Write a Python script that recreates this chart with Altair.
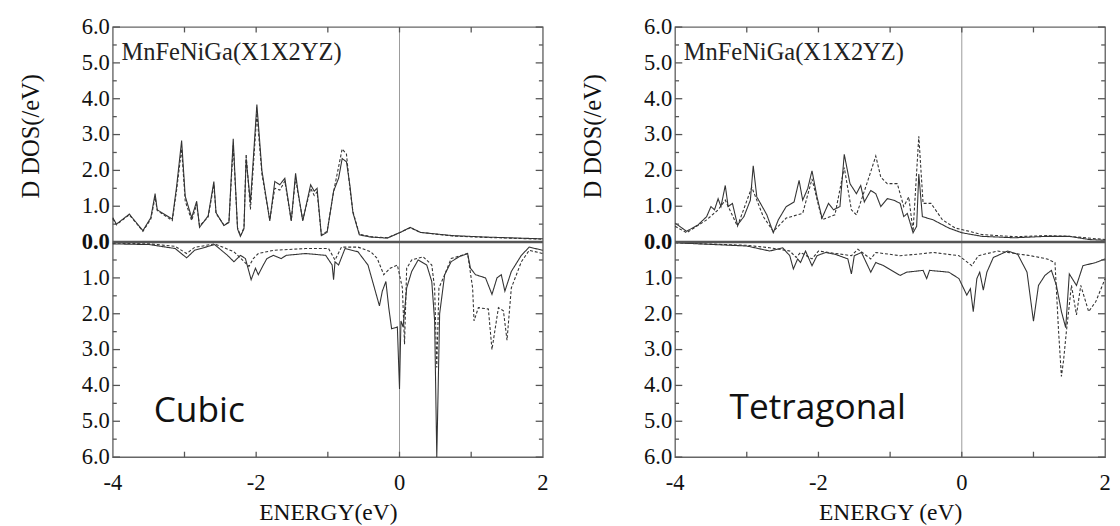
import altair as alt
import pandas as pd

# ---------------- data (energy eV, DOS states/eV) ----------------
# Cubic, spin-up
cub_up_solid = [(-4.0,0.68),(-3.95,0.50),(-3.77,0.78),(-3.58,0.32),(-3.47,0.68),(-3.41,1.35),(-3.38,0.90),
    (-3.17,0.64),(-3.11,1.55),(-3.04,2.83),(-2.99,1.28),(-2.90,0.68),(-2.83,1.14),(-2.79,0.41),(-2.67,0.73),
    (-2.59,1.69),(-2.56,0.82),(-2.45,0.46),(-2.38,0.55),(-2.32,2.88),(-2.26,0.37),(-2.22,0.16),(-2.17,0.37),
    (-2.14,2.33),(-2.08,1.10),(-1.99,3.84),(-1.92,2.00),(-1.81,0.59),(-1.74,1.69),(-1.67,1.60),(-1.60,1.78),
    (-1.51,0.59),(-1.45,1.92),(-1.42,1.46),(-1.35,0.59),(-1.24,1.60),(-1.19,1.42),(-1.15,1.50),(-1.09,0.18),
    (-1.01,0.27),(-0.92,1.42),(-0.85,1.78),(-0.80,2.33),(-0.74,2.24),(-0.69,1.55),(-0.65,0.82),(-0.56,0.20),
    (-0.40,0.14),(-0.17,0.11),(0.01,0.27),(0.15,0.41),(0.29,0.27),(0.74,0.18),(1.20,0.14),(2.0,0.09)]
cub_up_dash = [(-4.0,0.65),(-3.95,0.48),(-3.77,0.76),(-3.58,0.30),(-3.47,0.64),(-3.41,1.25),(-3.38,0.88),
    (-3.17,0.60),(-3.11,1.45),(-3.04,2.60),(-2.99,1.15),(-2.90,0.60),(-2.83,1.05),(-2.79,0.45),(-2.67,0.70),
    (-2.59,1.60),(-2.56,0.80),(-2.45,0.48),(-2.38,0.55),(-2.32,2.70),(-2.26,0.40),(-2.22,0.18),(-2.17,0.40),
    (-2.14,2.45),(-2.08,0.91),(-1.99,3.60),(-1.92,1.90),(-1.81,0.62),(-1.74,1.50),(-1.67,1.45),(-1.60,1.70),
    (-1.51,0.60),(-1.45,1.80),(-1.42,1.40),(-1.35,0.62),(-1.24,1.50),(-1.19,1.30),(-1.15,1.40),(-1.09,0.20),
    (-1.01,0.30),(-0.92,1.40),(-0.87,1.90),(-0.80,2.60),(-0.74,2.45),(-0.69,1.45),(-0.65,0.85),(-0.56,0.22),
    (-0.40,0.15),(-0.17,0.12),(0.01,0.27),(0.15,0.40),(0.29,0.27),(0.74,0.17),(1.20,0.13),(2.0,0.08)]
# Cubic, spin-down (magnitudes)
cub_dn_solid = [(-4.0,0.05),(-3.49,0.07),(-3.13,0.18),(-2.97,0.44),(-2.86,0.23),(-2.58,0.07),(-2.40,0.37),
    (-2.31,0.55),(-2.22,0.37),(-2.15,0.46),(-2.07,1.05),(-2.01,0.73),(-1.97,0.91),(-1.90,0.64),(-1.85,0.46),
    (-1.76,0.37),(-1.65,0.46),(-1.58,0.37),(-1.31,0.32),(-1.03,0.37),(-0.94,0.64),(-0.92,1.05),(-0.90,0.55),
    (-0.85,0.64),(-0.76,0.18),(-0.58,0.27),(-0.44,0.64),(-0.35,1.28),(-0.28,1.78),(-0.24,1.37),(-0.19,1.10),
    (-0.15,1.83),(-0.11,2.42),(-0.03,2.37),(0.0,4.10),(0.02,2.20),(0.05,2.37),(0.10,1.28),(0.17,0.82),
    (0.26,0.50),(0.38,0.64),(0.45,1.10),(0.49,2.20),(0.52,6.0),(0.56,2.00),(0.63,0.91),(0.72,0.55),
    (0.83,0.41),(0.95,0.32),(0.99,0.73),(1.06,0.91),(1.20,1.00),(1.29,1.46),(1.36,1.00),(1.42,0.91),
    (1.47,1.37),(1.56,0.82),(1.70,0.37),(1.81,0.14),(2.0,0.23)]
cub_dn_dash = [(-4.0,0.03),(-3.49,0.05),(-3.13,0.12),(-2.97,0.32),(-2.86,0.15),(-2.58,0.05),(-2.31,0.27),
    (-2.10,0.68),(-2.04,0.46),(-1.97,0.32),(-1.76,0.23),(-1.31,0.18),(-0.99,0.18),(-0.90,0.50),(-0.81,0.14),
    (-0.58,0.14),(-0.40,0.27),(-0.31,0.46),(-0.22,0.91),(-0.13,0.73),(-0.03,0.64),(0.04,1.28),(0.07,2.85),
    (0.10,0.73),(0.17,0.50),(0.33,0.41),(0.45,0.64),(0.49,1.28),(0.52,3.50),(0.55,1.28),(0.63,0.91),
    (0.72,0.46),(0.95,0.32),(1.02,1.28),(1.04,2.20),(1.10,1.83),(1.24,1.87),(1.29,3.00),(1.38,1.83),
    (1.45,1.92),(1.50,2.74),(1.56,1.28),(1.70,0.55),(1.81,0.23),(2.0,0.32)]
# Tetragonal, spin-up
tet_up_solid = [(-4.0,0.53),(-3.84,0.30),(-3.68,0.48),(-3.56,0.71),(-3.50,0.99),(-3.45,0.90),(-3.40,1.21),
    (-3.36,0.99),(-3.30,1.58),(-3.26,0.99),(-3.20,1.08),(-3.13,0.48),(-3.04,0.71),(-2.95,1.17),(-2.91,2.13),
    (-2.86,1.26),(-2.77,0.94),(-2.72,0.76),(-2.63,0.26),(-2.56,0.62),(-2.45,0.99),(-2.34,1.12),(-2.27,1.72),
    (-2.22,1.17),(-2.15,1.49),(-2.09,1.99),(-2.02,1.26),(-1.95,0.67),(-1.86,1.08),(-1.79,0.90),(-1.70,0.99),
    (-1.64,2.45),(-1.56,1.63),(-1.47,1.35),(-1.41,1.58),(-1.36,1.12),(-1.27,1.44),(-1.20,1.35),(-1.13,0.99),
    (-1.04,1.21),(-0.95,1.17),(-0.86,1.08),(-0.81,0.71),(-0.76,0.80),(-0.68,0.26),(-0.63,0.44),(-0.60,1.90),
    (-0.55,0.71),(-0.40,0.62),(-0.18,0.39),(0.0,0.26),(0.28,0.16),(0.73,0.12),(1.19,0.16),(1.50,0.16),
    (1.78,0.07),(2.0,0.05)]
tet_up_dash = [(-4.0,0.44),(-3.84,0.26),(-3.56,0.62),(-3.40,0.90),(-3.30,1.17),(-3.13,0.44),(-2.93,1.53),
    (-2.77,0.71),(-2.63,0.30),(-2.45,0.67),(-2.22,0.80),(-2.09,1.76),(-1.95,0.62),(-1.77,0.76),(-1.64,2.08),
    (-1.54,0.90),(-1.47,0.76),(-1.31,1.72),(-1.20,2.40),(-1.13,1.81),(-1.04,1.63),(-0.90,1.63),(-0.81,0.99),
    (-0.74,1.26),(-0.68,0.30),(-0.60,2.95),(-0.54,1.08),(-0.43,1.08),(-0.27,0.62),(-0.09,0.39),(0.0,0.35),
    (0.28,0.21),(0.73,0.15),(1.19,0.18),(1.50,0.16),(2.0,0.07)]
# Tetragonal, spin-down (magnitudes)
tet_dn_solid = [(-4.0,0.02),(-3.0,0.11),(-2.68,0.25),(-2.50,0.16),(-2.40,0.38),(-2.35,0.75),(-2.29,0.47),
    (-2.25,0.57),(-2.18,0.25),(-2.09,0.66),(-2.02,0.38),(-1.90,0.29),(-1.77,0.34),(-1.59,0.47),(-1.54,0.89),
    (-1.50,0.38),(-1.40,0.29),(-1.27,0.84),(-1.20,0.57),(-1.09,0.66),(-0.86,0.93),(-0.77,0.84),(-0.54,0.79),
    (-0.49,1.02),(-0.45,0.79),(-0.18,0.84),(-0.04,1.02),(0.07,1.48),(0.12,1.30),(0.16,1.94),(0.21,1.02),
    (0.25,0.84),(0.30,1.34),(0.35,0.84),(0.44,0.43),(0.64,0.25),(0.78,0.34),(0.91,0.84),(1.00,2.21),
    (1.07,1.21),(1.16,0.93),(1.25,0.79),(1.32,1.21),(1.39,1.94),(1.45,2.39),(1.50,0.89),(1.60,1.21),
    (1.69,0.66),(1.87,0.57),(2.0,0.47)]
tet_dn_dash = [(-4.0,0.02),(-3.0,0.09),(-2.68,0.16),(-2.40,0.25),(-2.31,0.43),(-2.25,0.29),(-2.09,0.47),
    (-2.00,0.25),(-1.54,0.38),(-1.45,0.20),(-1.27,0.47),(-1.20,0.29),(-0.86,0.38),(-0.63,0.34),(-0.40,0.29),
    (-0.04,0.38),(0.14,0.66),(0.23,0.38),(0.50,0.25),(0.96,0.38),(1.19,0.47),(1.30,0.57),(1.35,2.48),
    (1.39,3.75),(1.42,3.30),(1.46,2.48),(1.53,1.21),(1.60,2.03),(1.66,1.21),(1.77,1.94),(1.87,1.66),(2.0,1.02)]

x_label_values = [-4, -2, 0, 2]
x_label_text = ["-4", "-2", "0", "2"]
x_tick_values = [-3, -2, -1, 0, 1]
y_major = list(range(-6, 7))
y_label_text = ["%.1f" % abs(v) for v in y_major]
y_minor = [v + 0.5 for v in range(-6, 6)]
compound = "MnFeNiGa(X1X2YZ)"

SERIF = "Liberation Serif"
LINE = "#333333"

x_scale = alt.Scale(domain=[-4, 2], nice=False, zero=False)
y_scale = alt.Scale(domain=[-6, 6], nice=False, zero=False)


def build_df(up_s, up_d, dn_s, dn_d):
    rows = []
    for name, pts, sign, style in [("up_s", up_s, 1, "solid"), ("up_d", up_d, 1, "dashed"),
                                   ("dn_s", dn_s, -1, "solid"), ("dn_d", dn_d, -1, "dashed")]:
        for i, (e, v) in enumerate(pts):
            rows.append({"E": e, "dos": sign * v, "series": name, "style": style, "order": i})
    return pd.DataFrame(rows)


def tick_df():
    rows = []
    for xv in x_tick_values:
        rows.append({"x1": xv, "x2": xv, "y1": -6.0, "y2": -5.85})
        rows.append({"x1": xv, "x2": xv, "y1": 6.0, "y2": 5.85})
    for yv in y_major:
        rows.append({"x1": -4.0, "x2": -3.9, "y1": yv, "y2": yv})
        rows.append({"x1": 2.0, "x2": 1.9, "y1": yv, "y2": yv})
    for yv in y_minor:
        rows.append({"x1": -4.0, "x2": -3.945, "y1": yv, "y2": yv})
        rows.append({"x1": 2.0, "x2": 1.945, "y1": yv, "y2": yv})
    return pd.DataFrame(rows)


def panel(df, xtitle, label, label_x, label_y):
    x_axis = alt.Axis(values=x_label_values, title=xtitle, ticks=False, domain=False, grid=False,
                      labels=False, titlePadding=45, titleFontSize=24)
    y_axis = alt.Axis(values=y_major, title="D DOS(/eV)", ticks=False, domain=False, grid=False,
                      labels=False, titleFontSize=25,
                      titleX=-84, titleY=111, titleAngle=-90, titleBaseline="middle", titleAlign="center")

    def X(f):
        return alt.X(f, scale=x_scale, axis=x_axis)

    def Y(f):
        return alt.Y(f, scale=y_scale, axis=y_axis)

    lines = alt.Chart(df).mark_line(strokeWidth=1.1, color=LINE).encode(
        x=X("E:Q"),
        y=Y("dos:Q"),
        detail="series:N",
        order="order:Q",
        strokeDash=alt.StrokeDash("style:N", scale=alt.Scale(domain=["solid", "dashed"], range=[[1, 0], [3, 2]]),
                                  legend=None),
    )
    zero_h = alt.Chart(pd.DataFrame({"a": [-4.0], "b": [2.0], "y": [0.0]})).mark_rule(
        color="#555555", strokeWidth=2.6).encode(x=X("a:Q"), x2="b:Q", y=Y("y:Q"))
    zero_v = alt.Chart(pd.DataFrame({"x": [0.0], "a": [-6.0], "b": [6.0]})).mark_rule(
        color="#9a9a9a", strokeWidth=1).encode(x=X("x:Q"), y=Y("a:Q"), y2="b:Q")
    ticks = alt.Chart(tick_df()).mark_rule(color="#555555", strokeWidth=1.3).encode(
        x=X("x1:Q"), x2="x2:Q", y=Y("y1:Q"), y2="y2:Q")

    ylab_df = pd.DataFrame({"x": [-4.0] * len(y_major), "y": y_major, "t": y_label_text})
    ylab = alt.Chart(ylab_df[ylab_df["y"] != 0]).mark_text(
        align="right", baseline="middle", dx=-3, font=SERIF, fontSize=23, color="#111").encode(
        x=X("x:Q"), y=Y("y:Q"), text="t:N")
    ylab0 = alt.Chart(ylab_df[ylab_df["y"] == 0]).mark_text(
        align="right", baseline="middle", dx=-3, font=SERIF, fontSize=23, fontWeight="bold", color="#111").encode(
        x=X("x:Q"), y=Y("y:Q"), text="t:N")
    xlab = alt.Chart(pd.DataFrame({"x": x_label_values, "y": [-6.0] * 4, "t": x_label_text})).mark_text(
        align="center", baseline="top", dy=16, font=SERIF, fontSize=23, color="#111").encode(
        x=X("x:Q"), y=Y("y:Q"), text="t:N")

    comp = alt.Chart(pd.DataFrame({"x": [-3.88], "y": [5.07], "t": [compound]})).mark_text(
        align="left", baseline="alphabetic", font=SERIF, fontSize=25, color="#222").encode(
        x=X("x:Q"), y=Y("y:Q"), text="t:N")
    lab = alt.Chart(pd.DataFrame({"x": [label_x], "y": [label_y], "t": [label]})).mark_text(
        align="left", baseline="alphabetic", font="Open Sans", fontSize=36, color="#111").encode(
        x=X("x:Q"), y=Y("y:Q"), text="t:N")
    return alt.layer(zero_v, lines, zero_h, ticks, ylab, ylab0, xlab, comp, lab).properties(width=439, height=439)


left = panel(build_df(cub_up_solid, cub_up_dash, cub_dn_solid, cub_dn_dash), "ENERGY(eV)", "Cubic", -3.43, -5.01)
right = panel(build_df(tet_up_solid, tet_up_dash, tet_dn_solid, tet_dn_dash), "ENERGY (eV)", "Tetragonal", -3.24, -4.95)

chart = alt.hconcat(left, right, spacing=31).properties(
    padding={"left": 10, "top": 2, "right": 0, "bottom": 0},
    background="white",
).configure(
    font=SERIF,
    axis=alt.AxisConfig(titleFont=SERIF, titleFontWeight="normal", titleColor="#111"),
    view=alt.ViewConfig(stroke="#666666", strokeWidth=1.4),
)

chart.save("out.html", embed_options={"renderer": "svg", "actions": False})
